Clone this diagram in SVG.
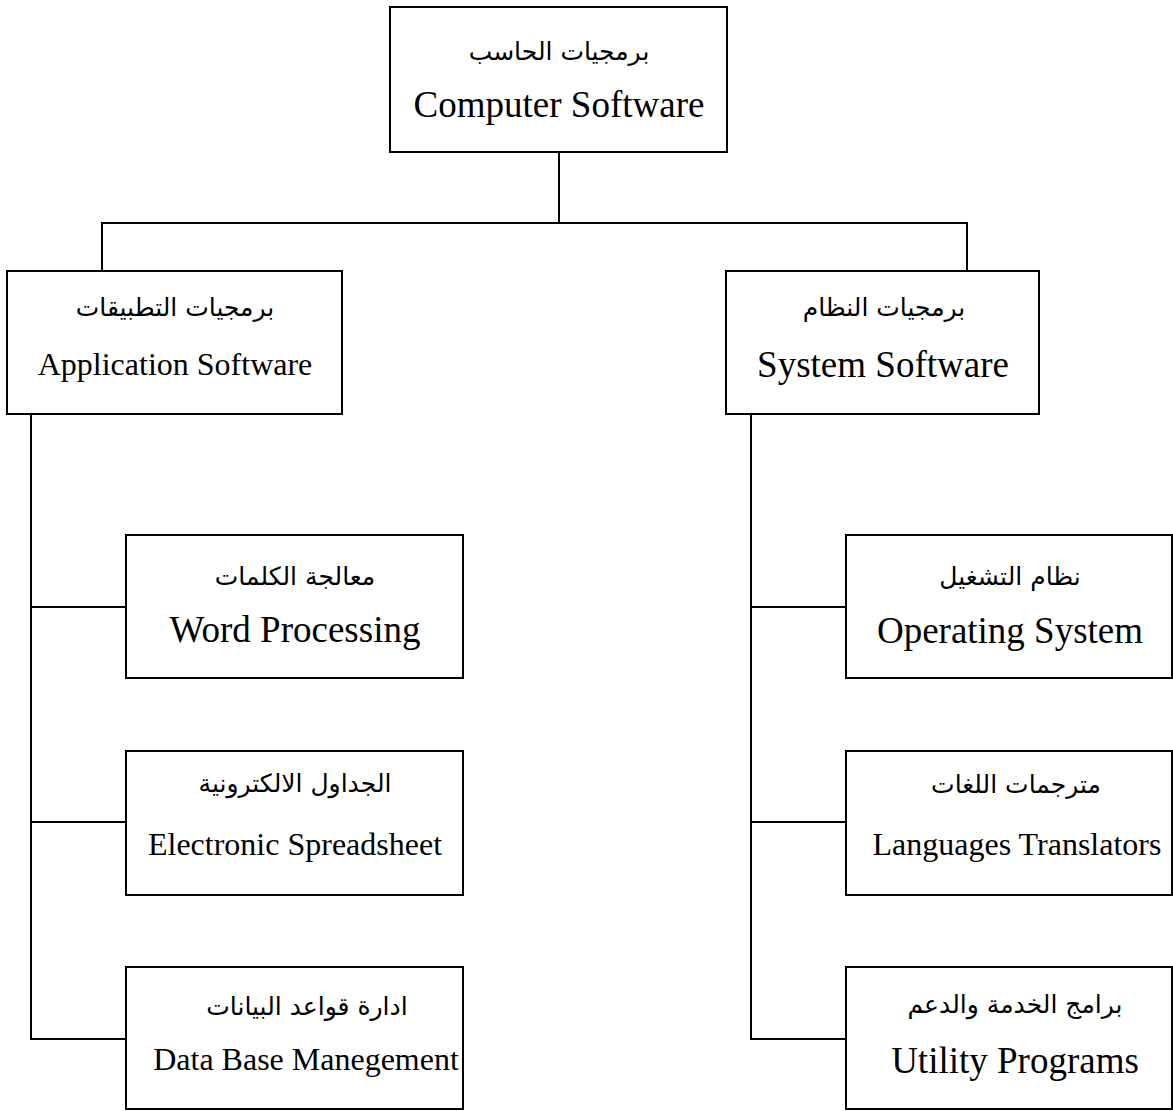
<svg xmlns="http://www.w3.org/2000/svg" width="1173" height="1111" viewBox="0 0 1173 1111">
<style>
.box{fill:#fff;stroke:#000;stroke-width:2}
.conn{fill:none;stroke:#000;stroke-width:2}
.en{font-family:"Liberation Serif","Times New Roman",serif;fill:#000;text-anchor:middle}
.ar{font-family:"DejaVu Sans",sans-serif;fill:#000;text-anchor:middle;font-size:25px}
.big{font-size:37px}
.sm{font-size:32px}
</style>
<rect width="1173" height="1111" fill="#fff"/>
<g id="connectors">
<path class="conn" d="M559 152V223M102 271V223H967V271"/>
<path class="conn" d="M31 414V1039H126M31 607H126M31 822H126"/>
<path class="conn" d="M751 414V1039H846M751 607H846M751 822H846"/>
</g>
<g id="computer-software">
<rect class="box" x="390" y="7" width="337" height="145"/>
<text class="ar" x="559" y="60">برمجيات الحاسب</text>
<text class="en big" x="559" y="117">Computer Software</text>
</g>
<g id="application-software">
<rect class="box" x="7" y="271" width="335" height="143"/>
<text class="ar" x="175" y="316">برمجيات التطبيقات</text>
<text class="en sm" x="175" y="375">Application Software</text>
</g>
<g id="system-software">
<rect class="box" x="726" y="271" width="313" height="143"/>
<text class="ar" x="884" y="316">برمجيات النظام</text>
<text class="en big" x="883" y="377">System Software</text>
</g>
<g id="word-processing">
<rect class="box" x="126" y="535" width="337" height="143"/>
<text class="ar" x="295" y="585">معالجة الكلمات</text>
<text class="en big" x="295" y="642">Word Processing</text>
</g>
<g id="electronic-spreadsheet">
<rect class="box" x="126" y="751" width="337" height="144"/>
<text class="ar" x="295" y="792">الجداول الالكترونية</text>
<text class="en sm" x="295" y="855">Electronic Spreadsheet</text>
</g>
<g id="data-base-management">
<rect class="box" x="126" y="967" width="337" height="142"/>
<text class="ar" x="307" y="1015">ادارة قواعد البيانات</text>
<text class="en sm" x="306" y="1070">Data Base Manegement</text>
</g>
<g id="operating-system">
<rect class="box" x="846" y="535" width="326" height="143"/>
<text class="ar" x="1010" y="585">نظام التشغيل</text>
<text class="en big" x="1010" y="643">Operating System</text>
</g>
<g id="languages-translators">
<rect class="box" x="846" y="751" width="326" height="144"/>
<text class="ar" x="1016" y="793">مترجمات اللغات</text>
<text class="en sm" x="1017" y="855">Languages Translators</text>
</g>
<g id="utility-programs">
<rect class="box" x="846" y="967" width="326" height="142"/>
<text class="ar" x="1015" y="1013">برامج الخدمة والدعم</text>
<text class="en big" x="1015" y="1073">Utility Programs</text>
</g>
</svg>
